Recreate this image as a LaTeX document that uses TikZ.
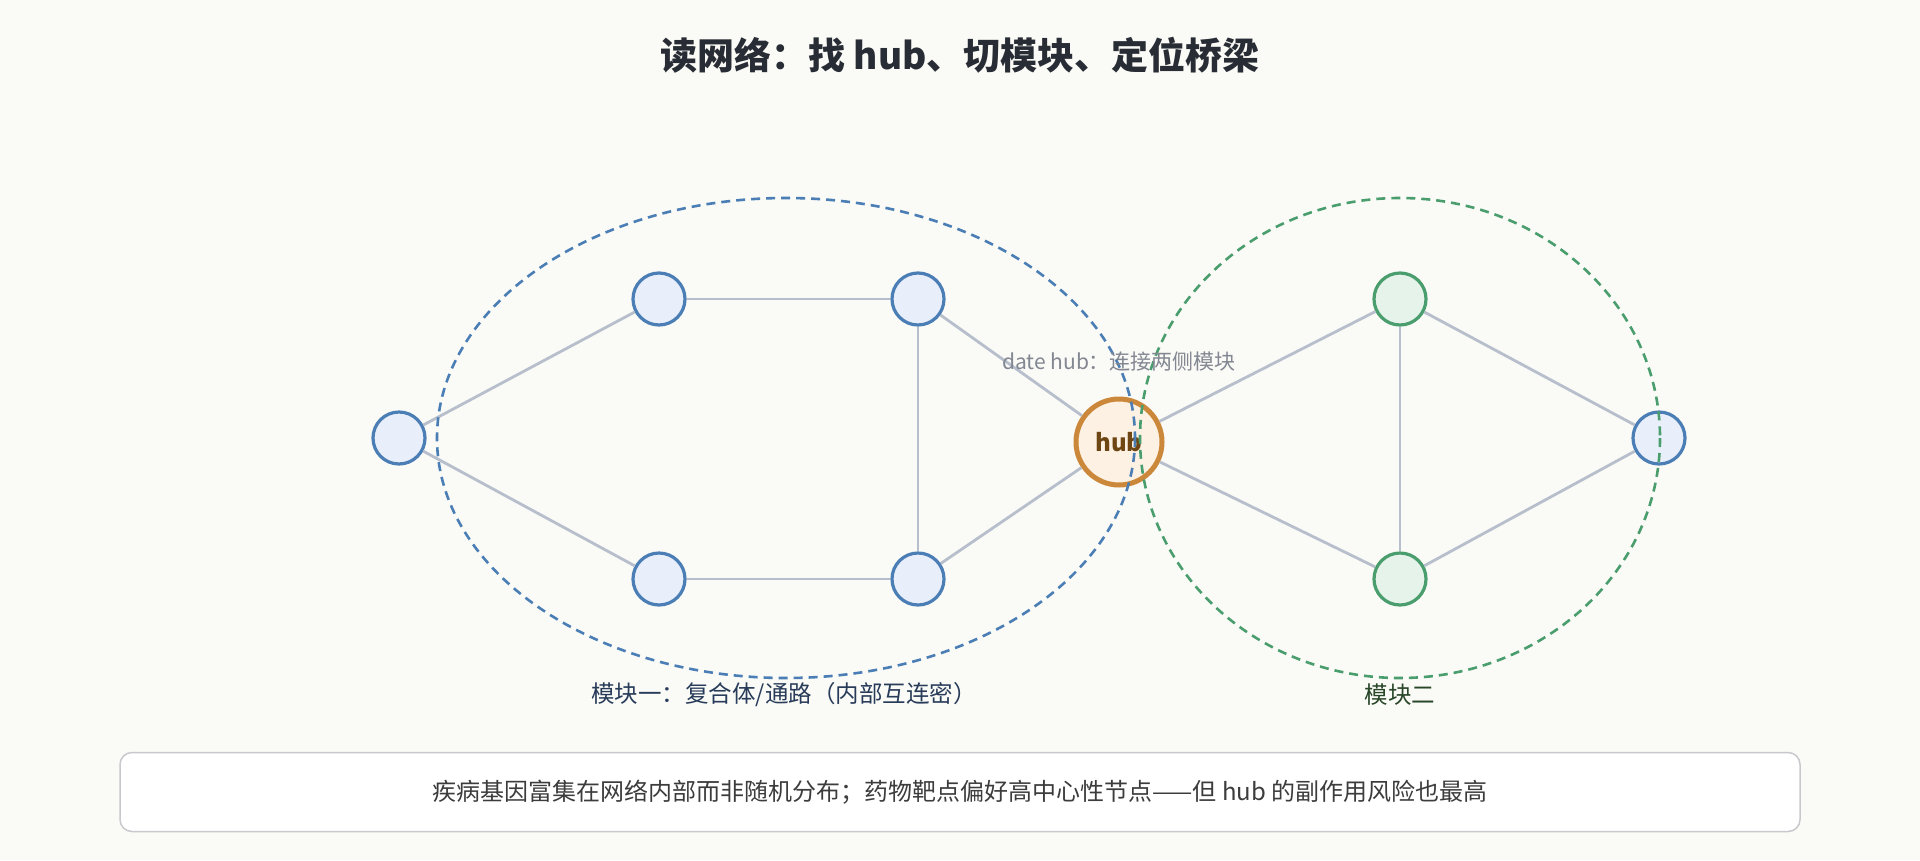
\documentclass[tikz,border=0pt]{standalone}
\usepackage{fontspec}
\setmainfont{Noto Sans CJK SC}
\begin{document}
\begin{tikzpicture}[x=1pt,y=-1pt,
  bn/.style={circle, draw={rgb,255:red,74;green,126;blue,181}, fill={rgb,255:red,232;green,239;blue,250}, line width=3.2pt, minimum size=52pt, inner sep=0pt},
  gn/.style={circle, draw={rgb,255:red,74;green,158;blue,110}, fill={rgb,255:red,230;green,243;blue,234}, line width=3.2pt, minimum size=52pt, inner sep=0pt},
  mod/.style={dashed, dash pattern=on 9pt off 6pt, line width=2.6pt}]
\definecolor{edgec}{RGB}{184,191,204}
\tikzset{edge/.style={draw=edgec, line width=2.8pt}}
\fill[fill={rgb,255:red,250;green,250;blue,246}] (0,0) rectangle (1920,860);
\useasboundingbox (0,0) rectangle (1920,860);
\node (title) at (960,55) {\fontsize{37}{42}\selectfont\bfseries\color[RGB]{40,44,52}读网络：找 hub、切模块、定位桥梁};
\node[bn] (a) at (399,438) {};
\node[bn] (b) at (659,299) {};
\node[bn] (c) at (918,299) {};
\node[bn] (d) at (659,579) {};
\node[bn] (e) at (918,579) {};
\node[gn] (f) at (1400,299) {};
\node[gn] (g) at (1400,579) {};
\node[bn] (h) at (1659,438) {};
\node[circle, draw={rgb,255:red,204;green,136;blue,58}, fill={rgb,255:red,253;green,241;blue,227}, line width=5pt, minimum size=86pt, inner sep=0pt] (hub) at (1119,442) {\fontsize{24}{28}\selectfont\bfseries\color[RGB]{110,70,20}hub};
\draw[edge] (a)--(b); \draw[edge] (a)--(d); \draw[edge] (b)--(c); \draw[edge] (d)--(e);
\draw[edge] (c)--(e); \draw[edge] (c)--(hub); \draw[edge] (e)--(hub);
\draw[edge] (hub)--(f); \draw[edge] (hub)--(g); \draw[edge] (f)--(g);
\draw[edge] (f)--(h); \draw[edge] (g)--(h);
\coordinate (ea) at (786,438);
\coordinate (eb) at (1400,438);
\draw[mod, draw={rgb,255:red,74;green,126;blue,181}] (ea) ellipse[x radius=349, y radius=240];
\draw[mod, draw={rgb,255:red,74;green,158;blue,110}] (eb) ellipse[x radius=260, y radius=240];
\node (hl) at (1119,362) {\fontsize{21}{25}\selectfont\color[RGB]{130,135,145}date hub：连接两侧模块};
\node (m1) at (784,695) {\fontsize{23.5}{28}\selectfont\color[RGB]{40,60,90}模块一：复合体/通路（内部互连密）};
\node (m2) at (1400,695) {\fontsize{23.5}{28}\selectfont\color[RGB]{40,70,40}模块二};
\node[draw={rgb,255:red,200;green,200;blue,205}, line width=1.5pt, fill=white, rounded corners=12pt, minimum width=1680pt, minimum height=79pt] (box) at (960,792) {\fontsize{24}{28}\selectfont\color[RGB]{60,60,60}疾病基因富集在网络内部而非随机分布；药物靶点偏好高中心性节点——但 hub 的副作用风险也最高};
\end{tikzpicture}
\end{document}
